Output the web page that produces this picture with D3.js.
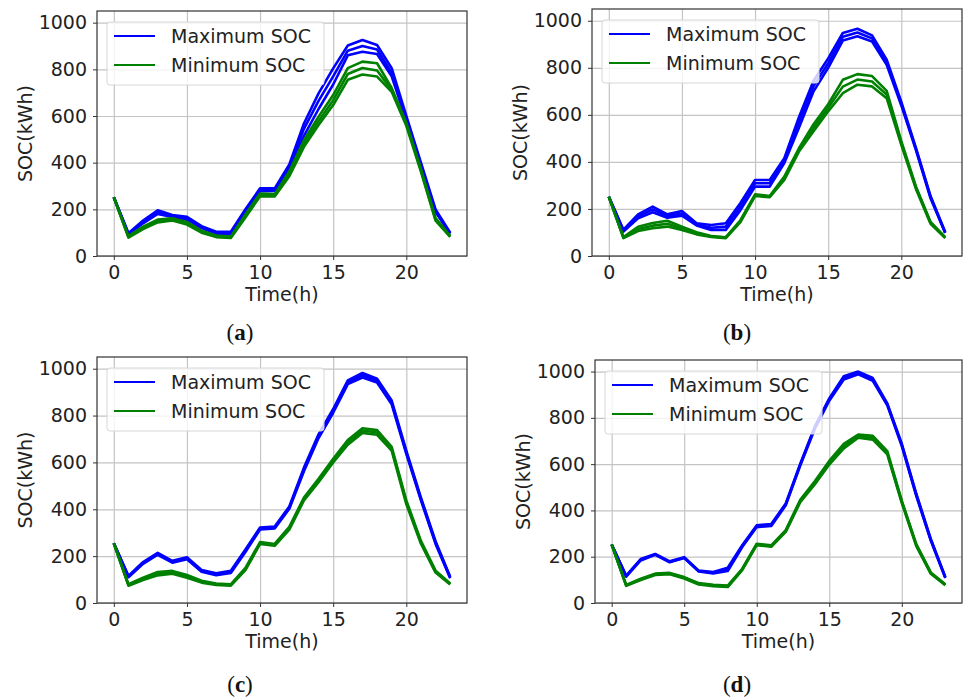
<!DOCTYPE html>
<html><head><meta charset="utf-8">
<script src="https://cdn.jsdelivr.net/npm/d3@7"></script>
<style>body{margin:0;background:#fff} svg{display:block}</style>
</head><body>
<svg id="c" width="963" height="700"></svg>
<script>
const hours = [0,1,2,3,4,5,6,7,8,9,10,11,12,13,14,15,16,17,18,19,20,21,22,23];
const xTicks = [0,5,10,15,20];
const yTicks = [0,200,400,600,800,1000];
const seriesNames = ["Maximum SOC","Minimum SOC"];
const panelLabels = ["a","b","c","d"];
const xLabel = "Time(h)";
const yLabel = "SOC(kWh)";

// Panel (a)
const aMax = [
 [252,98,152,196,176,168,128,104,104,200,290,290,392,568,697,804,902,926,904,805,600,400,200,100],
 [252,95,146,188,172,162,124,100,99,193,284,284,382,545,665,770,880,900,885,785,590,392,193,97],
 [252,92,140,180,167,156,120,96,95,186,278,279,374,515,630,735,860,875,866,770,580,385,188,95]
];
const aMin = [
 [252,85,126,156,162,146,108,88,83,178,268,265,362,496,597,690,805,833,826,720,570,372,163,86],
 [252,82,120,150,157,140,104,85,80,171,262,260,352,482,578,668,780,806,795,712,565,367,157,84],
 [252,79,115,144,152,135,100,81,77,165,256,255,342,468,561,647,755,778,769,704,558,362,152,82]
];
// Panel (b)
const bMax = [
 [252,112,177,210,177,191,139,132,139,225,323,323,416,590,745,840,948,966,938,835,655,460,255,102],
 [252,108,168,198,170,181,134,120,125,210,309,309,405,568,722,820,932,950,925,824,648,455,250,100],
 [252,104,160,186,163,171,130,111,111,195,295,295,395,545,700,800,916,934,912,813,640,450,245,98]
];
const bMin = [
 [252,80,124,140,150,125,101,85,80,152,262,255,338,458,560,645,749,773,765,702,488,296,145,80],
 [252,78,115,129,137,118,96,83,78,148,258,252,330,451,545,630,720,750,742,686,480,290,141,78],
 [252,76,106,118,125,111,92,81,76,144,255,250,323,444,530,615,692,728,721,671,472,285,137,76]
];
// Panel (c)
const cMax = [
 [255,116,175,214,180,195,141,127,138,228,322,326,412,578,720,828,950,982,957,864,650,450,264,112],
 [255,113,171,210,176,191,137,123,133,223,318,322,407,570,712,820,942,972,949,856,643,444,258,109],
 [255,110,167,206,172,187,133,119,128,218,314,318,402,562,704,812,934,962,941,848,636,438,252,106]
];
const cMin = [
 [255,80,108,132,137,120,95,83,80,150,260,252,325,450,530,616,696,746,738,666,438,265,138,83],
 [255,77,103,125,131,114,91,80,77,145,256,248,319,444,523,608,686,736,728,658,430,259,134,81],
 [255,74,98,118,125,108,87,77,74,140,252,244,313,438,516,600,676,726,718,650,422,253,130,79]
];
// Panel (d)
const dMax = [
 [253,118,190,212,180,198,140,134,152,250,336,341,430,602,762,884,980,1000,972,862,688,472,277,112],
 [253,116,187,210,178,196,138,131,145,246,332,337,426,598,757,879,973,994,966,858,683,467,273,110],
 [253,114,184,208,176,194,136,128,138,242,328,333,422,594,752,874,966,988,960,854,678,462,269,108]
];
const dMin = [
 [253,78,105,127,130,112,86,79,75,148,256,249,315,446,526,614,688,728,722,656,442,254,132,81],
 [253,76,102,124,127,109,83,76,72,145,253,246,311,441,519,606,678,721,714,649,437,250,129,79],
 [253,74,99,121,124,106,80,73,69,142,250,243,307,436,512,598,668,714,706,642,432,246,126,77]
];

const panelMax = [aMax, bMax, cMax, dMax];
const panelMin = [aMin, bMin, cMin, dMin];

const layouts = [
  {left:97,  top:11,  right:467, bottom:256, capX:240, capY:340},
  {left:592, top:9,   right:962, bottom:256, capX:737, capY:340},
  {left:97,  top:357, right:467, bottom:603, capX:240, capY:692},
  {left:595, top:360, right:962, bottom:603, capX:737, capY:692}
];
const colors = ["#0000ff", "#008000"];
const FONT = "DejaVu Sans, sans-serif";
const FS = 19;
const TXT = "#222";

const svg = d3.select("#c");

function drawPanel(i) {
  const L = layouts[i];
  const x = d3.scaleLinear().domain([-1.15, 24.15]).range([L.left, L.right]);
  const y = d3.scaleLinear().domain([0, 1050]).range([L.bottom, L.top]);
  const g = svg.append("g");

  // grid
  g.append("g").attr("transform", `translate(0,${L.bottom})`)
    .call(d3.axisBottom(x).tickValues(xTicks).tickSize(-(L.bottom - L.top)).tickFormat(""))
    .call(s => { s.select(".domain").remove(); s.selectAll("line").attr("stroke", "#c4c4c4").attr("stroke-width", 1.2); });
  g.append("g").attr("transform", `translate(${L.left},0)`)
    .call(d3.axisLeft(y).tickValues(yTicks).tickSize(-(L.right - L.left)).tickFormat(""))
    .call(s => { s.select(".domain").remove(); s.selectAll("line").attr("stroke", "#c4c4c4").attr("stroke-width", 1.2); });

  const line = d3.line().x((d, k) => x(hours[k])).y(d => y(d));
  const clipId = "clip" + i;
  g.append("clipPath").attr("id", clipId).append("rect")
    .attr("x", L.left).attr("y", L.top).attr("width", L.right - L.left).attr("height", L.bottom - L.top);
  const lg = g.append("g").attr("clip-path", `url(#${clipId})`);
  [panelMax[i], panelMin[i]].forEach((set, si) => {
    set.forEach(vals => {
      lg.append("path").datum(vals).attr("d", line)
        .attr("fill", "none").attr("stroke", colors[si]).attr("stroke-width", 2.6)
        .attr("stroke-linejoin", "round");
    });
  });

  // frame
  g.append("rect").attr("x", L.left).attr("y", L.top)
    .attr("width", L.right - L.left).attr("height", L.bottom - L.top)
    .attr("fill", "none").attr("stroke", "#333").attr("stroke-width", 1.2);

  // axes
  const ax = g.append("g").attr("transform", `translate(0,${L.bottom})`)
    .call(d3.axisBottom(x).tickValues(xTicks).tickFormat(d3.format("d")).tickSize(4).tickPadding(5.5));
  const ay = g.append("g").attr("transform", `translate(${L.left},0)`)
    .call(d3.axisLeft(y).tickValues(yTicks).tickFormat(d3.format("d")).tickSize(4).tickPadding(6));
  [ax, ay].forEach(a => {
    a.select(".domain").remove();
    a.selectAll("line").attr("stroke", "#333").attr("stroke-width", 1);
    a.selectAll("text").attr("font-family", FONT).attr("font-size", FS).attr("fill", TXT);
  });

  g.append("text").attr("x", (L.left + L.right) / 2).attr("y", L.bottom + 45)
    .attr("text-anchor", "middle").attr("font-family", FONT).attr("font-size", FS).attr("fill", TXT)
    .text(xLabel);
  const ylx = L.left - 72, yly = (L.top + L.bottom) / 2;
  g.append("text").attr("transform", `translate(${ylx},${yly}) rotate(-90)`)
    .attr("dy", "0.35em").attr("text-anchor", "middle")
    .attr("font-family", FONT).attr("font-size", FS).attr("fill", TXT)
    .text(yLabel);

  // legend
  const lx = L.left + 10, ly = L.top + 11;
  g.append("rect").attr("x", lx).attr("y", ly).attr("width", 217).attr("height", 63)
    .attr("rx", 3).attr("fill", "#fff").attr("fill-opacity", 0.8)
    .attr("stroke", "#d6d6d6").attr("stroke-width", 1);
  seriesNames.forEach((name, si) => {
    const yy = L.top + 25 + si * 29;
    g.append("line").attr("x1", L.left + 17).attr("x2", L.left + 58)
      .attr("y1", yy).attr("y2", yy).attr("stroke", colors[si]).attr("stroke-width", 2);
    g.append("text").attr("x", L.left + 74).attr("y", yy).attr("dy", "0.35em")
      .attr("font-family", FONT).attr("font-size", FS).attr("fill", TXT).text(name);
  });

  // caption
  const cap = svg.append("text").attr("x", L.capX).attr("y", L.capY)
    .attr("text-anchor", "middle").attr("font-family", "Liberation Serif, serif")
    .attr("font-size", 23).attr("fill", "#111");
  cap.append("tspan").text("(");
  cap.append("tspan").attr("font-weight", "bold").text(panelLabels[i]);
  cap.append("tspan").text(")");
}

[0, 1, 2, 3].forEach(drawPanel);
</script>
</body></html>
